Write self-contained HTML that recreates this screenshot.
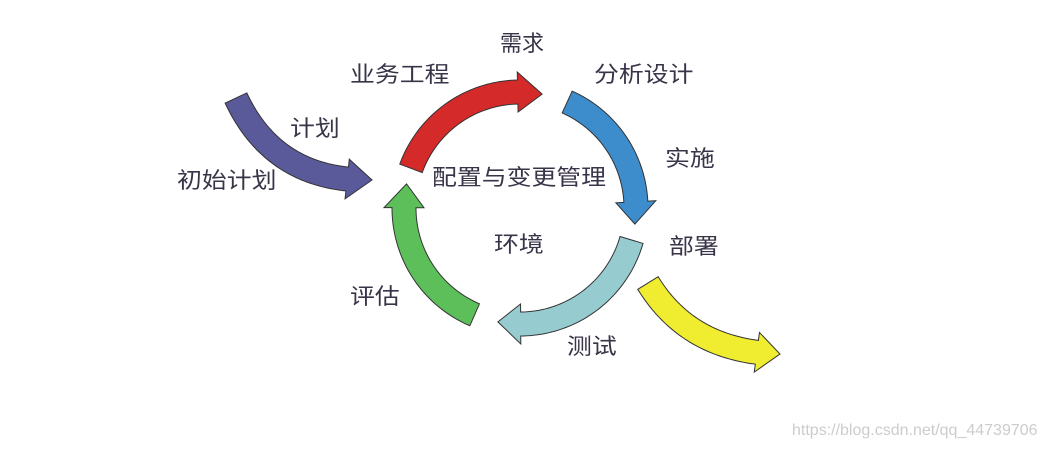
<!DOCTYPE html>
<html><head><meta charset="utf-8"><style>
body{margin:0;width:1054px;height:450px;background:#fff;overflow:hidden;position:relative;font-family:"Liberation Sans","Noto Sans CJK SC",sans-serif}
.t{position:absolute;font-size:22px;color:#3a3448;white-space:nowrap;line-height:1;transform:scaleX(1.13);transform-origin:0 0}
svg{position:absolute;left:0;top:0}
</style></head><body>
<svg id="s" width="1054" height="450"></svg>
<div class="t" style="left:500px;top:33px;transform:none">需求</div>
<div class="t" style="left:350px;top:64px">业务工程</div>
<div class="t" style="left:594px;top:64px">分析设计</div>
<div class="t" style="left:290px;top:118px">计划</div>
<div class="t" style="left:177px;top:170px">初始计划</div>
<div class="t" style="left:432px;top:167px">配置与变更管理</div>
<div class="t" style="left:665px;top:148px">实施</div>
<div class="t" style="left:494px;top:234px">环境</div>
<div class="t" style="left:669px;top:236px">部署</div>
<div class="t" style="left:350px;top:286px">评估</div>
<div class="t" style="left:567px;top:336px">测试</div>
<div class="t" style="left:792px;top:423px;font-size:16px;transform:none;color:#ccc">https://blog.csdn.net/qq_44739706</div>
<script>
var s=document.getElementById('s');
function arrow(pts,w,hw,hl,fill){
 var L=[0];for(var i=1;i<pts.length;i++){L.push(L[i-1]+Math.hypot(pts[i][0]-pts[i-1][0],pts[i][1]-pts[i-1][1]));}
 var tot=L[L.length-1],left=[],right=[],hb=null;
 for(var i=0;i<pts.length;i++){
  var a=pts[Math.max(0,i-1)],b=pts[Math.min(pts.length-1,i+1)];
  var dx=b[0]-a[0],dy=b[1]-a[1],d=Math.hypot(dx,dy);var nx=-dy/d,ny=dx/d;
  if(L[i]<=tot-hl){left.push([pts[i][0]+nx*w/2,pts[i][1]+ny*w/2]);right.push([pts[i][0]-nx*w/2,pts[i][1]-ny*w/2]);hb=[pts[i],nx,ny];}
 }
 var p=hb[0],nx=hb[1],ny=hb[2],tip=pts[pts.length-1];
 var poly=left.concat([[p[0]+nx*hw/2,p[1]+ny*hw/2],tip,[p[0]-nx*hw/2,p[1]-ny*hw/2]]).concat(right.reverse());
 var e=document.createElementNS('http://www.w3.org/2000/svg','polygon');
 e.setAttribute('points',poly.map(function(q){return q.join(',')}).join(' '));
 e.setAttribute('fill',fill);e.setAttribute('stroke','#333');e.setAttribute('stroke-width','1');
 s.appendChild(e);
}
function arc(a0,a1){var cx=520,cy=208,r=116,o=[];for(var i=0;i<=60;i++){var a=(a0+(a1-a0)*i/60)*Math.PI/180;o.push([cx+r*Math.cos(a),cy+r*Math.sin(a)]);}return o;}
function bez(p0,p1,p2){var o=[];for(var i=0;i<=60;i++){var t=i/60,u=1-t;o.push([u*u*p0[0]+2*u*t*p1[0]+t*t*p2[0],u*u*p0[1]+2*u*t*p1[1]+t*t*p2[1]]);}return o;}
arrow(arc(200,281),24,40,22,'#d42a2a');
arrow(arc(294,368),24,40,22,'#3d8ccc');
arrow(arc(16,101),24,40,22,'#96ccd0');
arrow(arc(113,192),24,40,22,'#5cbf5a');
arrow(bez([236,98],[275,182],[372,180]),24,40,22,'#5a5a9a');
arrow(bez([648,283],[690,352],[780,354]),24,40,22,'#f0ec30');
</script>
</body></html>
